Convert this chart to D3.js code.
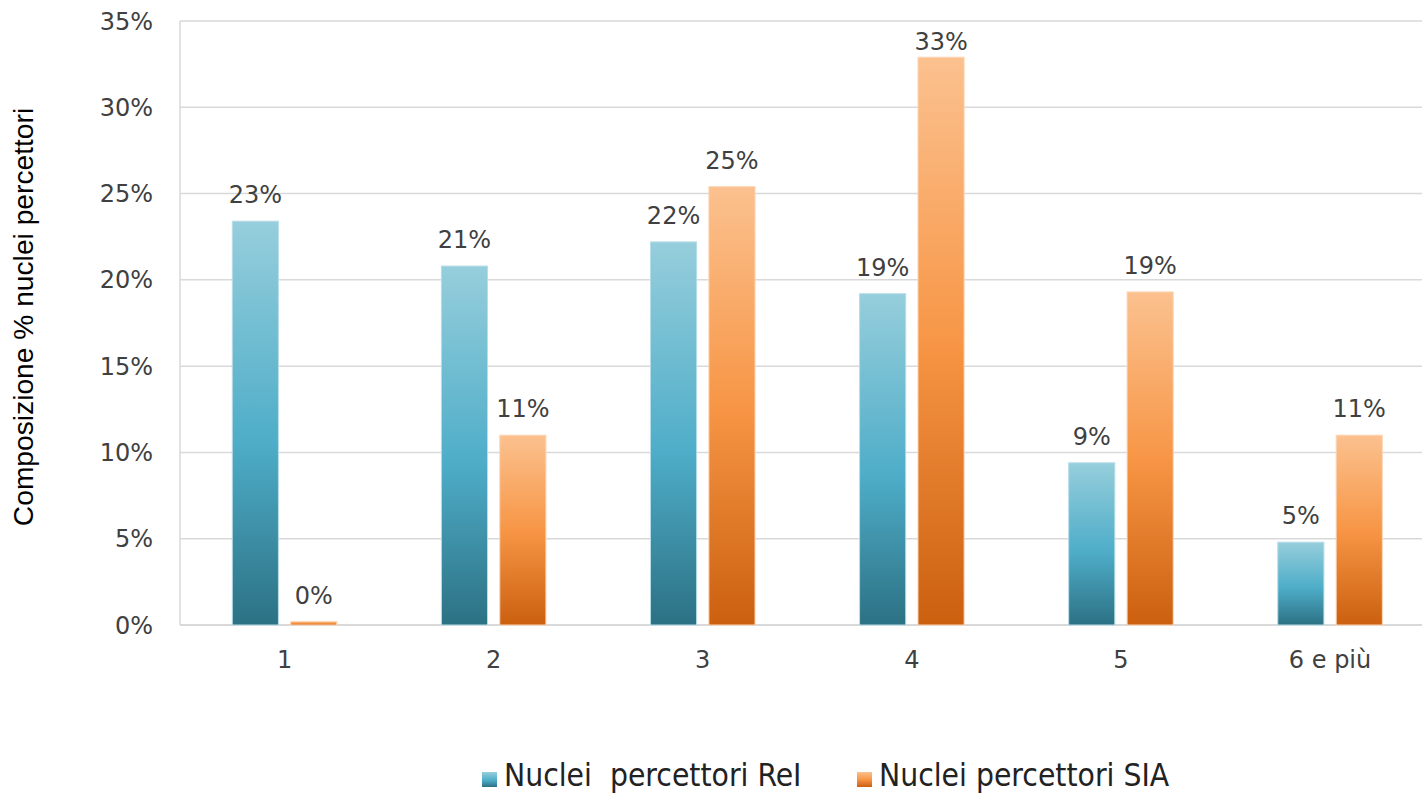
<!DOCTYPE html>
<html>
<head>
<meta charset="utf-8">
<script src="https://cdn.jsdelivr.net/npm/d3@7"></script>
<style>
  html, body { margin: 0; padding: 0; background: #fff; }
  svg { display: block; }
</style>
</head>
<body>
<div id="chart"></div>
<script>
// values
const categories = ['1', '2', '3', '4', '5', '6 e più'];
const seriesNames = ['Nuclei  percettori ReI', 'Nuclei percettori SIA'];
const reiValues = [0.234, 0.208, 0.222, 0.192, 0.094, 0.048];
const siaValues = [0.002, 0.110, 0.254, 0.329, 0.193, 0.110];
const yTicks = [0, 0.05, 0.10, 0.15, 0.20, 0.25, 0.30, 0.35];

const width = 1422, height = 795;
const margin = { top: 21, left: 180, bottom: 170 };
const plotBottom = height - margin.bottom; // 625

const svg = d3.select('#chart').append('svg')
    .attr('width', width)
    .attr('height', height);

const defs = svg.append('defs');

function addGradient(id, stops) {
    const g = defs.append('linearGradient')
        .attr('id', id)
        .attr('x1', 0).attr('y1', 0)
        .attr('x2', 0).attr('y2', 1);
    stops.forEach(s => g.append('stop').attr('offset', s[0]).attr('stop-color', s[1]));
}
addGradient('gradRei', [[0, '#96cedc'], [0.55, '#4eadc8'], [1, '#2c7184']]);
addGradient('gradSia', [[0, '#fbc18f'], [0.5, '#f79646'], [1, '#cb600f']]);

const x0 = d3.scaleBand()
    .domain(categories)
    .range([margin.left, margin.left + 6 * 209.1])
    .padding(0);

const x1 = d3.scaleBand()
    .domain(seriesNames)
    .range([x0.bandwidth() * 0.25, x0.bandwidth() * 0.75])
    .paddingInner(0.21);

const y = d3.scaleLinear()
    .domain([0, 0.35])
    .range([plotBottom, margin.top]);

// grid lines
svg.append('g')
    .selectAll('line')
    .data(yTicks)
    .join('line')
    .attr('x1', margin.left)
    .attr('x2', width)
    .attr('y1', d => y(d))
    .attr('y2', d => y(d))
    .attr('stroke', '#d9d9d9')
    .attr('stroke-width', d => d === 0 ? 2 : 1.5);

// vertical axis line
svg.append('line')
    .attr('x1', margin.left).attr('x2', margin.left)
    .attr('y1', y(0.35)).attr('y2', y(0))
    .attr('stroke', '#d9d9d9')
    .attr('stroke-width', 1.5);

// y tick labels
svg.append('g')
    .selectAll('text')
    .data(yTicks)
    .join('text')
    .attr('x', margin.left - 27)
    .attr('y', d => y(d))
    .attr('dy', '0.36em')
    .attr('text-anchor', 'end')
    .attr('font-family', 'DejaVu Sans, Verdana, sans-serif')
    .attr('font-size', 24)
    .attr('fill', '#404040')
    .text(d => d3.format('.0%')(d));

// x labels
svg.append('g')
    .selectAll('text')
    .data(categories)
    .join('text')
    .attr('x', d => x0(d) + x0.bandwidth() / 2)
    .attr('y', 668)
    .attr('text-anchor', 'middle')
    .attr('font-family', 'DejaVu Sans, Verdana, sans-serif')
    .attr('font-size', 24)
    .attr('fill', '#404040')
    .text(d => d);

// y title
svg.append('text')
    .attr('transform', 'translate(33, 317) rotate(-90)')
    .attr('text-anchor', 'middle')
    .attr('font-family', 'Liberation Sans, Arial, sans-serif')
    .attr('font-size', 28.2)
    .attr('fill', '#000')
    .text('Composizione % nuclei percettori');

// bars
const rows = categories.map((c, i) => ({
    cat: c,
    values: [
        { series: seriesNames[0], v: reiValues[i], fill: 'url(#gradRei)', edge: '#b7dde8' },
        { series: seriesNames[1], v: siaValues[i], fill: 'url(#gradSia)', edge: '#fcd5b5' }
    ]
}));

const groups = svg.append('g')
    .selectAll('g')
    .data(rows)
    .join('g')
    .attr('transform', d => `translate(${x0(d.cat)},0)`);

groups.selectAll('rect')
    .data(d => d.values)
    .join('rect')
    .attr('x', d => x1(d.series))
    .attr('y', d => y(d.v))
    .attr('width', x1.bandwidth())
    .attr('height', d => y(0) - y(d.v))
    .attr('fill', d => d.fill)
    .attr('stroke', d => d.edge)
    .attr('stroke-width', 1);

// data labels (kept inside the plot near the top, like the original)
groups.selectAll('text')
    .data(d => d.values)
    .join('text')
    .attr('x', d => x1(d.series) + x1.bandwidth() / 2)
    .attr('y', d => Math.max(y(d.v) - 18, 50))
    .attr('text-anchor', 'middle')
    .attr('font-family', 'DejaVu Sans, Verdana, sans-serif')
    .attr('font-size', 24)
    .attr('fill', '#404040')
    .text(d => d3.format('.0%')(d.v));

// legend
const legendItems = [
    { name: seriesNames[0], fill: 'url(#gradRei)', x: 482 },
    { name: seriesNames[1], fill: 'url(#gradSia)', x: 857 }
];
const legend = svg.append('g')
    .selectAll('g')
    .data(legendItems)
    .join('g')
    .attr('transform', d => `translate(${d.x},772)`);

legend.append('rect')
    .attr('width', 15)
    .attr('height', 15)
    .attr('fill', d => d.fill);

legend.append('text')
    .attr('x', 22)
    .attr('y', 14)
    .attr('xml:space', 'preserve')
    .style('white-space', 'pre')
    .attr('font-family', 'DejaVu Sans Condensed, DejaVu Sans, sans-serif')
    .attr('font-stretch', 'condensed')
    .attr('font-size', 31.5)
    .attr('fill', '#222')
    .text(d => d.name);
</script>
</body>
</html>
